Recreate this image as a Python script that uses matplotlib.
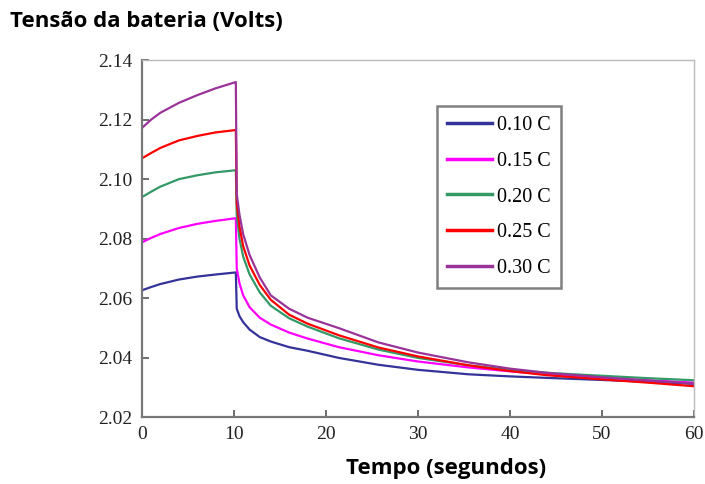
import numpy as np
from matplotlib import pyplot as plt

# tempo (s) e tensões
tempo = [0, 1, 2, 4, 6, 8, 10.2, 10.3, 10.6, 11, 11.7, 12.8, 14, 16, 18, 21.4,
         25.7, 30, 35.5, 40, 44, 50, 55, 60]

v_010 = [2.0627, 2.0638, 2.0648, 2.0663, 2.0673, 2.0680, 2.0687, 2.0565, 2.0540,
         2.0520, 2.0495, 2.0470, 2.0455, 2.0436, 2.0424, 2.0400, 2.0377, 2.0360,
         2.0345, 2.0338, 2.0333, 2.0326, 2.0320, 2.0313]
v_015 = [2.0788, 2.0803, 2.0816, 2.0836, 2.0850, 2.0860, 2.0869, 2.0700, 2.0650,
         2.0610, 2.0570, 2.0535, 2.0512, 2.0485, 2.0465, 2.0436, 2.0409, 2.0388,
         2.0368, 2.0355, 2.0345, 2.0333, 2.0325, 2.0317]
v_020 = [2.0940, 2.0958, 2.0975, 2.1000, 2.1013, 2.1023, 2.1030, 2.0880, 2.0800,
         2.0740, 2.0680, 2.0620, 2.0575, 2.0533, 2.0505, 2.0466, 2.0428, 2.0400,
         2.0375, 2.0360, 2.0350, 2.0340, 2.0332, 2.0325]
v_025 = [2.1070, 2.1088, 2.1105, 2.1130, 2.1145, 2.1157, 2.1165, 2.0920, 2.0840,
         2.0775, 2.0710, 2.0645, 2.0595, 2.0545, 2.0515, 2.0476, 2.0435, 2.0405,
         2.0375, 2.0356, 2.0342, 2.0328, 2.0317, 2.0305]
v_030 = [2.1172, 2.1200, 2.1223, 2.1256, 2.1282, 2.1305, 2.1326, 2.0950, 2.0880,
         2.0815, 2.0745, 2.0670, 2.0610, 2.0565, 2.0535, 2.0500, 2.0452, 2.0418,
         2.0385, 2.0364, 2.0350, 2.0335, 2.0324, 2.0314]

series = [v_010, v_015, v_020, v_025, v_030]
rotulos = ["0.10 C", "0.15 C", "0.20 C", "0.25 C", "0.30 C"]
cores = ["#333399", "#ff00ff", "#339966", "#ff0000", "#993399"]

xticks = [0, 10, 20, 30, 40, 50, 60]
yticks = [2.02, 2.04, 2.06, 2.08, 2.10, 2.12, 2.14]

fig = plt.figure(figsize=(7.05, 4.84), dpi=100)
ax = fig.add_axes([0.2014, 0.1374, 0.7830, 0.7386])

for v, lab, c in zip(series, rotulos, cores):
    ax.plot(tempo, v, color=c, lw=1.6, label=lab)

ax.set_xlim(0, 60)
ax.set_ylim(2.02, 2.14)
ax.set_xticks(xticks)
ax.set_yticks(yticks)
ax.set_yticklabels([f"{y:.2f}" for y in yticks])

for lbl in ax.get_xticklabels() + ax.get_yticklabels():
    lbl.set_fontfamily("Liberation Serif")
    lbl.set_fontsize(14)
    lbl.set_color("#222222")

ax.tick_params(direction="in", length=5, width=1.2, color="#555555",
               top=False, right=False)
ax.tick_params(axis="y", pad=7)
ax.tick_params(axis="x", pad=6)
for s in ["left", "bottom"]:
    ax.spines[s].set_color("#777777")
    ax.spines[s].set_linewidth(1.6)
for s in ["top", "right"]:
    ax.spines[s].set_color("#bbbbbb")
    ax.spines[s].set_linewidth(1.0)

leg = ax.legend(loc="upper left", bbox_to_anchor=(0.535, 0.871),
                prop={"family": "Liberation Serif", "size": 14.5},
                handlelength=2.2, handletextpad=0.25, labelspacing=0.82,
                borderpad=0.5, borderaxespad=0, fancybox=False, frameon=True)
leg.get_frame().set_edgecolor("#606060")
leg.get_frame().set_linewidth(1.8)
for h in leg.get_lines():
    h.set_linewidth(2.5)

fig.text(0.014, 0.955, "Tensão da bateria (Volts)", fontsize=16,
         fontweight="bold", family="Open Sans", ha="left", va="center")
fig.text(0.633, 0.033, "Tempo (segundos)", fontsize=16,
         fontweight="bold", family="Open Sans", ha="center", va="center")

plt.savefig("out.png", dpi=100)
